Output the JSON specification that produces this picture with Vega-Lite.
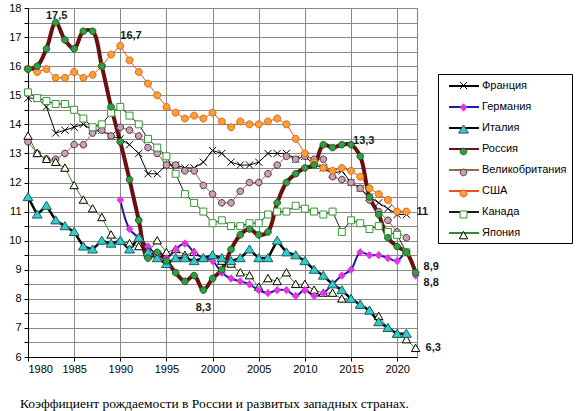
{
  "$schema": "https://vega.github.io/schema/vega-lite/v6.json",
  "width": 389,
  "height": 349,
  "autosize": {"type": "none"},
  "padding": {"left": 28, "top": 8, "right": 164, "bottom": 54},
  "background": "white",
  "title": {
    "text": "Коэффициент рождаемости в России и развитых западных странах.",
    "orient": "bottom",
    "anchor": "middle",
    "dx": -8,
    "offset": 23,
    "font": "Liberation Serif",
    "fontSize": 13.5,
    "fontWeight": "normal",
    "color": "#000000"
  },
  "datasets": {
    "rates": [
      {"year": 1980, "country": "Франция", "rate": 14.9}, {"year": 1981, "country": "Франция", "rate": 14.9}, {"year": 1982, "country": "Франция", "rate": 14.6}, {"year": 1983, "country": "Франция", "rate": 13.7}, {"year": 1984, "country": "Франция", "rate": 13.8}, {"year": 1985, "country": "Франция", "rate": 13.9}, {"year": 1986, "country": "Франция", "rate": 14.0}, {"year": 1987, "country": "Франция", "rate": 13.8}, {"year": 1988, "country": "Франция", "rate": 13.8}, {"year": 1989, "country": "Франция", "rate": 13.6}, {"year": 1990, "country": "Франция", "rate": 13.5}, {"year": 1991, "country": "Франция", "rate": 13.3}, {"year": 1992, "country": "Франция", "rate": 13.0}, {"year": 1993, "country": "Франция", "rate": 12.3}, {"year": 1994, "country": "Франция", "rate": 12.3}, {"year": 1995, "country": "Франция", "rate": 12.6}, {"year": 1996, "country": "Франция", "rate": 12.6}, {"year": 1997, "country": "Франция", "rate": 12.5}, {"year": 1998, "country": "Франция", "rate": 12.5}, {"year": 1999, "country": "Франция", "rate": 12.7}, {"year": 2000, "country": "Франция", "rate": 13.1}, {"year": 2001, "country": "Франция", "rate": 13.0}, {"year": 2002, "country": "Франция", "rate": 12.7}, {"year": 2003, "country": "Франция", "rate": 12.6}, {"year": 2004, "country": "Франция", "rate": 12.6}, {"year": 2005, "country": "Франция", "rate": 12.7}, {"year": 2006, "country": "Франция", "rate": 13.0}, {"year": 2007, "country": "Франция", "rate": 13.0}, {"year": 2008, "country": "Франция", "rate": 13.0}, {"year": 2009, "country": "Франция", "rate": 12.8}, {"year": 2010, "country": "Франция", "rate": 12.9}, {"year": 2011, "country": "Франция", "rate": 12.6}, {"year": 2012, "country": "Франция", "rate": 12.5}, {"year": 2013, "country": "Франция", "rate": 12.3}, {"year": 2014, "country": "Франция", "rate": 12.4}, {"year": 2015, "country": "Франция", "rate": 12.0}, {"year": 2016, "country": "Франция", "rate": 11.8}, {"year": 2017, "country": "Франция", "rate": 11.5}, {"year": 2018, "country": "Франция", "rate": 11.3}, {"year": 2019, "country": "Франция", "rate": 11.1}, {"year": 2020, "country": "Франция", "rate": 10.9}, {"year": 2021, "country": "Франция", "rate": 10.9},
      {"year": 1980, "country": "Великобритания", "rate": 13.4}, {"year": 1981, "country": "Великобритания", "rate": 13.0}, {"year": 1982, "country": "Великобритания", "rate": 12.8}, {"year": 1983, "country": "Великобритания", "rate": 12.8}, {"year": 1984, "country": "Великобритания", "rate": 13.0}, {"year": 1985, "country": "Великобритания", "rate": 13.3}, {"year": 1986, "country": "Великобритания", "rate": 13.3}, {"year": 1987, "country": "Великобритания", "rate": 13.7}, {"year": 1988, "country": "Великобритания", "rate": 13.8}, {"year": 1989, "country": "Великобритания", "rate": 13.6}, {"year": 1990, "country": "Великобритания", "rate": 13.9}, {"year": 1991, "country": "Великобритания", "rate": 13.8}, {"year": 1992, "country": "Великобритания", "rate": 13.6}, {"year": 1993, "country": "Великобритания", "rate": 13.2}, {"year": 1994, "country": "Великобритания", "rate": 13.0}, {"year": 1995, "country": "Великобритания", "rate": 12.6}, {"year": 1996, "country": "Великобритания", "rate": 12.6}, {"year": 1997, "country": "Великобритания", "rate": 12.4}, {"year": 1998, "country": "Великобритания", "rate": 12.4}, {"year": 1999, "country": "Великобритания", "rate": 11.9}, {"year": 2000, "country": "Великобритания", "rate": 11.6}, {"year": 2001, "country": "Великобритания", "rate": 11.3}, {"year": 2002, "country": "Великобритания", "rate": 11.3}, {"year": 2003, "country": "Великобритания", "rate": 11.7}, {"year": 2004, "country": "Великобритания", "rate": 12.0}, {"year": 2005, "country": "Великобритания", "rate": 12.0}, {"year": 2006, "country": "Великобритания", "rate": 12.3}, {"year": 2007, "country": "Великобритания", "rate": 12.6}, {"year": 2008, "country": "Великобритания", "rate": 12.9}, {"year": 2009, "country": "Великобритания", "rate": 12.8}, {"year": 2010, "country": "Великобритания", "rate": 12.9}, {"year": 2011, "country": "Великобритания", "rate": 12.8}, {"year": 2012, "country": "Великобритания", "rate": 12.8}, {"year": 2013, "country": "Великобритания", "rate": 12.2}, {"year": 2014, "country": "Великобритания", "rate": 12.1}, {"year": 2015, "country": "Великобритания", "rate": 12.0}, {"year": 2016, "country": "Великобритания", "rate": 11.8}, {"year": 2017, "country": "Великобритания", "rate": 11.4}, {"year": 2018, "country": "Великобритания", "rate": 11.0}, {"year": 2019, "country": "Великобритания", "rate": 10.7}, {"year": 2020, "country": "Великобритания", "rate": 10.3}, {"year": 2021, "country": "Великобритания", "rate": 10.1},
      {"year": 1980, "country": "США", "rate": 15.9}, {"year": 1981, "country": "США", "rate": 15.8}, {"year": 1982, "country": "США", "rate": 15.9}, {"year": 1983, "country": "США", "rate": 15.6}, {"year": 1984, "country": "США", "rate": 15.6}, {"year": 1985, "country": "США", "rate": 15.8}, {"year": 1986, "country": "США", "rate": 15.6}, {"year": 1987, "country": "США", "rate": 15.7}, {"year": 1988, "country": "США", "rate": 16.0}, {"year": 1989, "country": "США", "rate": 16.4}, {"year": 1990, "country": "США", "rate": 16.7}, {"year": 1991, "country": "США", "rate": 16.2}, {"year": 1992, "country": "США", "rate": 15.8}, {"year": 1993, "country": "США", "rate": 15.4}, {"year": 1994, "country": "США", "rate": 15.0}, {"year": 1995, "country": "США", "rate": 14.6}, {"year": 1996, "country": "США", "rate": 14.4}, {"year": 1997, "country": "США", "rate": 14.2}, {"year": 1998, "country": "США", "rate": 14.3}, {"year": 1999, "country": "США", "rate": 14.2}, {"year": 2000, "country": "США", "rate": 14.4}, {"year": 2001, "country": "США", "rate": 14.1}, {"year": 2002, "country": "США", "rate": 13.9}, {"year": 2003, "country": "США", "rate": 14.1}, {"year": 2004, "country": "США", "rate": 14.0}, {"year": 2005, "country": "США", "rate": 14.0}, {"year": 2006, "country": "США", "rate": 14.1}, {"year": 2007, "country": "США", "rate": 14.2}, {"year": 2008, "country": "США", "rate": 14.0}, {"year": 2009, "country": "США", "rate": 13.5}, {"year": 2010, "country": "США", "rate": 13.0}, {"year": 2011, "country": "США", "rate": 12.7}, {"year": 2012, "country": "США", "rate": 12.5}, {"year": 2013, "country": "США", "rate": 12.4}, {"year": 2014, "country": "США", "rate": 12.5}, {"year": 2015, "country": "США", "rate": 12.4}, {"year": 2016, "country": "США", "rate": 12.2}, {"year": 2017, "country": "США", "rate": 11.8}, {"year": 2018, "country": "США", "rate": 11.6}, {"year": 2019, "country": "США", "rate": 11.4}, {"year": 2020, "country": "США", "rate": 11.0}, {"year": 2021, "country": "США", "rate": 11.0},
      {"year": 1980, "country": "Канада", "rate": 15.1}, {"year": 1981, "country": "Канада", "rate": 14.9}, {"year": 1982, "country": "Канада", "rate": 14.8}, {"year": 1983, "country": "Канада", "rate": 14.7}, {"year": 1984, "country": "Канада", "rate": 14.7}, {"year": 1985, "country": "Канада", "rate": 14.5}, {"year": 1986, "country": "Канада", "rate": 14.2}, {"year": 1987, "country": "Канада", "rate": 13.9}, {"year": 1988, "country": "Канада", "rate": 14.0}, {"year": 1989, "country": "Канада", "rate": 14.4}, {"year": 1990, "country": "Канада", "rate": 14.6}, {"year": 1991, "country": "Канада", "rate": 14.3}, {"year": 1992, "country": "Канада", "rate": 14.0}, {"year": 1993, "country": "Канада", "rate": 13.5}, {"year": 1994, "country": "Канада", "rate": 13.2}, {"year": 1995, "country": "Канада", "rate": 12.9}, {"year": 1996, "country": "Канада", "rate": 12.3}, {"year": 1997, "country": "Канада", "rate": 11.6}, {"year": 1998, "country": "Канада", "rate": 11.3}, {"year": 1999, "country": "Канада", "rate": 11.0}, {"year": 2000, "country": "Канада", "rate": 10.6}, {"year": 2001, "country": "Канада", "rate": 10.7}, {"year": 2002, "country": "Канада", "rate": 10.5}, {"year": 2003, "country": "Канада", "rate": 10.5}, {"year": 2004, "country": "Канада", "rate": 10.6}, {"year": 2005, "country": "Канада", "rate": 10.6}, {"year": 2006, "country": "Канада", "rate": 10.9}, {"year": 2007, "country": "Канада", "rate": 11.0}, {"year": 2008, "country": "Канада", "rate": 11.0}, {"year": 2009, "country": "Канада", "rate": 11.2}, {"year": 2010, "country": "Канада", "rate": 11.1}, {"year": 2011, "country": "Канада", "rate": 11.0}, {"year": 2012, "country": "Канада", "rate": 10.9}, {"year": 2013, "country": "Канада", "rate": 11.0}, {"year": 2014, "country": "Канада", "rate": 10.3}, {"year": 2015, "country": "Канада", "rate": 10.7}, {"year": 2016, "country": "Канада", "rate": 10.6}, {"year": 2017, "country": "Канада", "rate": 10.4}, {"year": 2018, "country": "Канада", "rate": 10.5}, {"year": 2019, "country": "Канада", "rate": 10.3}, {"year": 2020, "country": "Канада", "rate": 10.2}, {"year": 2021, "country": "Канада", "rate": 9.6},
      {"year": 1980, "country": "Япония", "rate": 13.6}, {"year": 1981, "country": "Япония", "rate": 13.0}, {"year": 1982, "country": "Япония", "rate": 12.8}, {"year": 1983, "country": "Япония", "rate": 12.7}, {"year": 1984, "country": "Япония", "rate": 12.5}, {"year": 1985, "country": "Япония", "rate": 11.9}, {"year": 1986, "country": "Япония", "rate": 11.4}, {"year": 1987, "country": "Япония", "rate": 11.1}, {"year": 1988, "country": "Япония", "rate": 10.8}, {"year": 1989, "country": "Япония", "rate": 10.2}, {"year": 1990, "country": "Япония", "rate": 10.0}, {"year": 1991, "country": "Япония", "rate": 9.9}, {"year": 1992, "country": "Япония", "rate": 9.8}, {"year": 1993, "country": "Япония", "rate": 9.6}, {"year": 1994, "country": "Япония", "rate": 10.0}, {"year": 1995, "country": "Япония", "rate": 9.6}, {"year": 1996, "country": "Япония", "rate": 9.7}, {"year": 1997, "country": "Япония", "rate": 9.5}, {"year": 1998, "country": "Япония", "rate": 9.6}, {"year": 1999, "country": "Япония", "rate": 9.4}, {"year": 2000, "country": "Япония", "rate": 9.5}, {"year": 2001, "country": "Япония", "rate": 9.3}, {"year": 2002, "country": "Япония", "rate": 9.2}, {"year": 2003, "country": "Япония", "rate": 8.9}, {"year": 2004, "country": "Япония", "rate": 8.8}, {"year": 2005, "country": "Япония", "rate": 8.4}, {"year": 2006, "country": "Япония", "rate": 8.7}, {"year": 2007, "country": "Япония", "rate": 8.6}, {"year": 2008, "country": "Япония", "rate": 8.9}, {"year": 2009, "country": "Япония", "rate": 8.5}, {"year": 2010, "country": "Япония", "rate": 8.5}, {"year": 2011, "country": "Япония", "rate": 8.3}, {"year": 2012, "country": "Япония", "rate": 8.2}, {"year": 2013, "country": "Япония", "rate": 8.2}, {"year": 2014, "country": "Япония", "rate": 8.0}, {"year": 2015, "country": "Япония", "rate": 8.0}, {"year": 2016, "country": "Япония", "rate": 7.8}, {"year": 2017, "country": "Япония", "rate": 7.6}, {"year": 2018, "country": "Япония", "rate": 7.4}, {"year": 2019, "country": "Япония", "rate": 7.0}, {"year": 2020, "country": "Япония", "rate": 6.8}, {"year": 2021, "country": "Япония", "rate": 6.6}, {"year": 2022, "country": "Япония", "rate": 6.3},
      {"year": 1990, "country": "Германия", "rate": 11.4}, {"year": 1991, "country": "Германия", "rate": 10.4}, {"year": 1992, "country": "Германия", "rate": 10.1}, {"year": 1993, "country": "Германия", "rate": 9.8}, {"year": 1994, "country": "Германия", "rate": 9.5}, {"year": 1995, "country": "Германия", "rate": 9.4}, {"year": 1996, "country": "Германия", "rate": 9.7}, {"year": 1997, "country": "Германия", "rate": 9.9}, {"year": 1998, "country": "Германия", "rate": 9.6}, {"year": 1999, "country": "Германия", "rate": 9.4}, {"year": 2000, "country": "Германия", "rate": 9.3}, {"year": 2001, "country": "Германия", "rate": 8.9}, {"year": 2002, "country": "Германия", "rate": 8.7}, {"year": 2003, "country": "Германия", "rate": 8.6}, {"year": 2004, "country": "Германия", "rate": 8.5}, {"year": 2005, "country": "Германия", "rate": 8.3}, {"year": 2006, "country": "Германия", "rate": 8.2}, {"year": 2007, "country": "Германия", "rate": 8.3}, {"year": 2008, "country": "Германия", "rate": 8.3}, {"year": 2009, "country": "Германия", "rate": 8.1}, {"year": 2010, "country": "Германия", "rate": 8.3}, {"year": 2011, "country": "Германия", "rate": 8.1}, {"year": 2012, "country": "Германия", "rate": 8.2}, {"year": 2013, "country": "Германия", "rate": 8.5}, {"year": 2014, "country": "Германия", "rate": 8.8}, {"year": 2015, "country": "Германия", "rate": 9.0}, {"year": 2016, "country": "Германия", "rate": 9.6}, {"year": 2017, "country": "Германия", "rate": 9.5}, {"year": 2018, "country": "Германия", "rate": 9.5}, {"year": 2019, "country": "Германия", "rate": 9.4}, {"year": 2020, "country": "Германия", "rate": 9.3}, {"year": 2021, "country": "Германия", "rate": 9.6}, {"year": 2022, "country": "Германия", "rate": 8.8},
      {"year": 1980, "country": "Италия", "rate": 11.5}, {"year": 1981, "country": "Италия", "rate": 10.9}, {"year": 1982, "country": "Италия", "rate": 11.2}, {"year": 1983, "country": "Италия", "rate": 10.7}, {"year": 1984, "country": "Италия", "rate": 10.5}, {"year": 1985, "country": "Италия", "rate": 10.3}, {"year": 1986, "country": "Италия", "rate": 9.8}, {"year": 1987, "country": "Италия", "rate": 9.7}, {"year": 1988, "country": "Италия", "rate": 10.0}, {"year": 1989, "country": "Италия", "rate": 9.9}, {"year": 1990, "country": "Италия", "rate": 10.0}, {"year": 1991, "country": "Италия", "rate": 9.7}, {"year": 1992, "country": "Италия", "rate": 10.1}, {"year": 1993, "country": "Италия", "rate": 9.6}, {"year": 1994, "country": "Италия", "rate": 9.4}, {"year": 1995, "country": "Италия", "rate": 9.2}, {"year": 1996, "country": "Италия", "rate": 9.4}, {"year": 1997, "country": "Италия", "rate": 9.4}, {"year": 1998, "country": "Италия", "rate": 9.3}, {"year": 1999, "country": "Италия", "rate": 9.4}, {"year": 2000, "country": "Италия", "rate": 9.5}, {"year": 2001, "country": "Италия", "rate": 9.4}, {"year": 2002, "country": "Италия", "rate": 9.3}, {"year": 2003, "country": "Италия", "rate": 9.4}, {"year": 2004, "country": "Италия", "rate": 9.7}, {"year": 2005, "country": "Италия", "rate": 9.4}, {"year": 2006, "country": "Италия", "rate": 9.4}, {"year": 2007, "country": "Италия", "rate": 10.0}, {"year": 2008, "country": "Италия", "rate": 9.6}, {"year": 2009, "country": "Италия", "rate": 9.5}, {"year": 2010, "country": "Италия", "rate": 9.3}, {"year": 2011, "country": "Италия", "rate": 9.0}, {"year": 2012, "country": "Италия", "rate": 8.8}, {"year": 2013, "country": "Италия", "rate": 8.5}, {"year": 2014, "country": "Италия", "rate": 8.3}, {"year": 2015, "country": "Италия", "rate": 8.0}, {"year": 2016, "country": "Италия", "rate": 7.8}, {"year": 2017, "country": "Италия", "rate": 7.6}, {"year": 2018, "country": "Италия", "rate": 7.2}, {"year": 2019, "country": "Италия", "rate": 7.0}, {"year": 2020, "country": "Италия", "rate": 6.8}, {"year": 2021, "country": "Италия", "rate": 6.8},
      {"year": 1980, "country": "Россия", "rate": 15.9}, {"year": 1981, "country": "Россия", "rate": 16.0}, {"year": 1982, "country": "Россия", "rate": 16.6}, {"year": 1983, "country": "Россия", "rate": 17.5}, {"year": 1984, "country": "Россия", "rate": 16.9}, {"year": 1985, "country": "Россия", "rate": 16.6}, {"year": 1986, "country": "Россия", "rate": 17.2}, {"year": 1987, "country": "Россия", "rate": 17.2}, {"year": 1988, "country": "Россия", "rate": 16.0}, {"year": 1989, "country": "Россия", "rate": 14.6}, {"year": 1990, "country": "Россия", "rate": 13.4}, {"year": 1991, "country": "Россия", "rate": 12.1}, {"year": 1992, "country": "Россия", "rate": 10.7}, {"year": 1993, "country": "Россия", "rate": 9.4}, {"year": 1994, "country": "Россия", "rate": 9.6}, {"year": 1995, "country": "Россия", "rate": 9.3}, {"year": 1996, "country": "Россия", "rate": 8.9}, {"year": 1997, "country": "Россия", "rate": 8.6}, {"year": 1998, "country": "Россия", "rate": 8.8}, {"year": 1999, "country": "Россия", "rate": 8.3}, {"year": 2000, "country": "Россия", "rate": 8.7}, {"year": 2001, "country": "Россия", "rate": 9.0}, {"year": 2002, "country": "Россия", "rate": 9.7}, {"year": 2003, "country": "Россия", "rate": 10.2}, {"year": 2004, "country": "Россия", "rate": 10.4}, {"year": 2005, "country": "Россия", "rate": 10.2}, {"year": 2006, "country": "Россия", "rate": 10.3}, {"year": 2007, "country": "Россия", "rate": 11.3}, {"year": 2008, "country": "Россия", "rate": 12.0}, {"year": 2009, "country": "Россия", "rate": 12.3}, {"year": 2010, "country": "Россия", "rate": 12.5}, {"year": 2011, "country": "Россия", "rate": 12.6}, {"year": 2012, "country": "Россия", "rate": 13.3}, {"year": 2013, "country": "Россия", "rate": 13.2}, {"year": 2014, "country": "Россия", "rate": 13.3}, {"year": 2015, "country": "Россия", "rate": 13.3}, {"year": 2016, "country": "Россия", "rate": 12.9}, {"year": 2017, "country": "Россия", "rate": 11.5}, {"year": 2018, "country": "Россия", "rate": 10.9}, {"year": 2019, "country": "Россия", "rate": 10.1}, {"year": 2020, "country": "Россия", "rate": 9.8}, {"year": 2021, "country": "Россия", "rate": 9.6}, {"year": 2022, "country": "Россия", "rate": 8.9}
    ],
    "labels": [
      {"year": 1983, "rate": 17.5, "label": "17,5"},
      {"year": 1990, "rate": 16.7, "label": "16,7"},
      {"year": 2015, "rate": 13.3, "label": "13,3"},
      {"year": 1999, "rate": 8.3, "label": "8,3"},
      {"year": 2021, "rate": 11.0, "label": "11"},
      {"year": 2022, "rate": 6.3, "label": "6,3"},
      {"year": 2022, "rate": 8.9, "label": "8,9"},
      {"year": 2022, "rate": 8.8, "label": "8,8"}
    ]
  },
  "config": {
    "view": {"stroke": "#808080", "strokeWidth": 1},
    "axis": {
      "title": null,
      "labelFont": "Liberation Sans",
      "labelFontSize": 11,
      "labelColor": "#000000",
      "domainColor": "#000000",
      "tickColor": "#000000",
      "tickSize": 4,
      "grid": true,
      "gridColor": "#8a8a8a",
      "gridOpacity": 1
    },
    "legend": {
      "orient": "none",
      "legendX": 410,
      "legendY": 66,
      "title": null,
      "symbolSize": 144,
      "symbolOffset": 14,
      "labelOffset": 11,
      "rowPadding": 9,
      "padding": 5,
      "labelFont": "Liberation Sans",
      "labelFontSize": 11,
      "labelColor": "#000000"
    },
    "text": {"font": "Liberation Sans", "fontSize": 11, "fontWeight": "bold", "color": "#1a1a1a", "baseline": "middle"}
  },
  "data": {"name": "rates"},
  "encoding": {
    "x": {
      "field": "year",
      "type": "quantitative",
      "scale": {"domain": [1980, 2022.15], "nice": false, "zero": false},
      "axis": {"values": [1980, 1985, 1990, 1995, 2000, 2005, 2010, 2015, 2020], "format": "d", "labelPadding": 2}
    },
    "y": {
      "field": "rate",
      "type": "quantitative",
      "scale": {"domain": [6, 18], "nice": false, "zero": false},
      "axis": {
        "values": [6, 6.5, 7, 7.5, 8, 8.5, 9, 9.5, 10, 10.5, 11, 11.5, 12, 12.5, 13, 13.5, 14, 14.5, 15, 15.5, 16, 16.5, 17, 17.5, 18],
        "labelExpr": "datum.value % 1 == 0 ? format(datum.value, 'd') : ''",
        "labelPadding": 3
      }
    }
  },
  "layer": [
    {
      "transform": [{"filter": {"field": "country", "oneOf": ["Франция", "Великобритания", "США", "Канада", "Япония"]}}],
      "mark": {"type": "line", "interpolate": "linear", "strokeWidth": 1},
      "encoding": {
        "color": {
          "field": "country",
          "type": "nominal",
          "scale": {
            "domain": ["Франция", "Германия", "Италия", "Россия", "Великобритания", "США", "Канада", "Япония"],
            "range": ["#000000", "#1f1f99", "#000000", "#6b1010", "#8c6d46", "#e8541c", "#1a1a1a", "#2e8b2e"]
          },
          "legend": {"symbolType": "M-2.5,0H2.5", "symbolStrokeWidth": 2, "strokeColor": "#000000"}
        }
      }
    },
    {
      "transform": [{"filter": {"field": "country", "equal": "Италия"}}],
      "mark": {"type": "line", "interpolate": "linear", "strokeWidth": 2.5},
      "encoding": {"color": {"field": "country", "type": "nominal", "legend": null}}
    },
    {
      "transform": [{"filter": {"field": "country", "equal": "Германия"}}],
      "mark": {"type": "line", "interpolate": "catmull-rom", "strokeWidth": 2},
      "encoding": {"color": {"field": "country", "type": "nominal", "legend": null}}
    },
    {
      "transform": [{"filter": {"field": "country", "equal": "Россия"}}],
      "mark": {"type": "line", "interpolate": "catmull-rom", "strokeWidth": 4},
      "encoding": {"color": {"field": "country", "type": "nominal", "legend": null}}
    },
    {
      "mark": {"type": "point", "filled": true, "size": 144, "opacity": 1, "strokeWidth": 1},
      "encoding": {
        "fill": {
          "field": "country",
          "type": "nominal",
          "scale": {
            "domain": ["Франция", "Германия", "Италия", "Россия", "Великобритания", "США", "Канада", "Япония", "Япония"],
            "range": ["transparent", "#e633e6", "#33cccc", "#2ea043", "#c9a3b5", "#ff9f33", "#ffffff", "#ffffe6"]
          },
          "legend": {"labelExpr": "''", "symbolStrokeWidth": 1}
        },
        "stroke": {
          "field": "country",
          "type": "nominal",
          "scale": {
            "domain": ["Франция", "Германия", "Италия", "Россия", "Великобритания", "США", "Канада", "Япония", "Япония"],
            "range": ["#000000", "#e633e6", "#1d5f5f", "#1b5e20", "#4d3340", "#d2691e", "#339933", "#000000"]
          },
          "legend": {"labelExpr": "''", "symbolStrokeWidth": 1}
        },
        "shape": {
          "field": "country",
          "type": "nominal",
          "scale": {
            "domain": ["Франция", "Германия", "Италия", "Россия", "Великобритания", "США", "Канада", "Япония", "Япония"],
            "range": [
              "M-0.6,-0.6L0.6,0.6M-0.6,0.6L0.6,-0.6",
              "M0,-0.62L0.55,0L0,0.62L-0.55,0Z",
              "M0,-0.75L0.82,0.6L-0.82,0.6Z",
              "M0.55,0A0.55,0.55,0,1,1,-0.55,0A0.55,0.55,0,1,1,0.55,0Z",
              "M0.55,0A0.55,0.55,0,1,1,-0.55,0A0.55,0.55,0,1,1,0.55,0Z",
              "M0.58,0A0.58,0.58,0,1,1,-0.58,0A0.58,0.58,0,1,1,0.58,0Z",
              "M-0.58,-0.58H0.58V0.58H-0.58Z",
              "M0,-0.68L0.7,0.55L-0.7,0.55Z"
            ]
          },
          "legend": {"labelExpr": "''", "symbolStrokeWidth": 1}
        }
      }
    },
    {
      "data": {"name": "labels"},
      "transform": [{"filter": "datum.label == '17,5'"}],
      "mark": {"type": "text", "align": "center", "dx": 1, "dy": -7},
      "encoding": {"text": {"field": "label"}}
    },
    {
      "data": {"name": "labels"},
      "transform": [{"filter": "datum.label == '16,7'"}],
      "mark": {"type": "text", "align": "left", "dx": 0, "dy": -10},
      "encoding": {"text": {"field": "label"}}
    },
    {
      "data": {"name": "labels"},
      "transform": [{"filter": "datum.label == '13,3'"}],
      "mark": {"type": "text", "align": "left", "dx": 2, "dy": -4},
      "encoding": {"text": {"field": "label"}}
    },
    {
      "data": {"name": "labels"},
      "transform": [{"filter": "datum.label == '8,3'"}],
      "mark": {"type": "text", "align": "center", "dx": 0, "dy": 18},
      "encoding": {"text": {"field": "label"}}
    },
    {
      "data": {"name": "labels"},
      "transform": [{"filter": "datum.label == '11' || datum.label == '6,3'"}],
      "mark": {"type": "text", "align": "left", "dx": 10, "dy": 0},
      "encoding": {"text": {"field": "label"}}
    },
    {
      "data": {"name": "labels"},
      "transform": [{"filter": "datum.label == '8,9'"}],
      "mark": {"type": "text", "align": "left", "dx": 8, "dy": -6},
      "encoding": {"text": {"field": "label"}}
    },
    {
      "data": {"name": "labels"},
      "transform": [{"filter": "datum.label == '8,8'"}],
      "mark": {"type": "text", "align": "left", "dx": 8, "dy": 7},
      "encoding": {"text": {"field": "label"}}
    }
  ]
}
